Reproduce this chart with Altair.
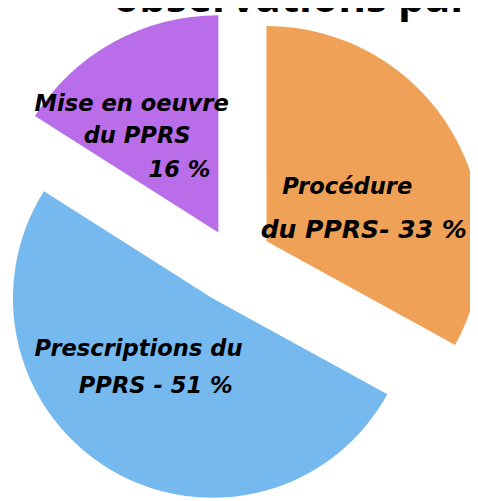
import math
import altair as alt
import pandas as pd

# ---------------- data ----------------
categories = ["Procédure du PPRS", "Prescriptions du PPRS", "Mise en oeuvre du PPRS"]
shares = [33, 51, 16]
colors = ["#EFA257", "#75B9EF", "#B96DE9"]
label_lines = [
    ["Procédure", "du PPRS- 33 %"],
    ["Prescriptions du", "PPRS - 51 %"],
    ["Mise en oeuvre", "du PPRS", "16 %"],
]
title_text = "observations par"

# ---------------- style ----------------
W, H = 470, 493
CX, CY = 225, 255  # common centre of the (exploded) pie
SLICE_STYLE = {  # explode offset of each slice apex and its radius
    "Procédure du PPRS": dict(dx=38, dy=-22, r=219),
    "Prescriptions du PPRS": dict(dx=-17, dy=36, r=203),
    "Mise en oeuvre du PPRS": dict(dx=-11, dy=-31, r=221),
}
LABEL_POS = [  # left x, baseline y, font size of each label line
    [(279, 185, 23), (257, 230, 25.5)],
    [(27, 350, 23), (72, 387, 23)],
    [(27, 101, 23), (77, 133, 23), (143, 168, 23)],
]
FONT = "DejaVu Sans"

# ---------------- tables ----------------
slices = pd.DataFrame({
    "cat": categories,
    "share": shares,
    "order": list(range(len(categories))),
    "dx": [SLICE_STYLE[c]["dx"] for c in categories],
    "dy": [SLICE_STYLE[c]["dy"] for c in categories],
    "r": [SLICE_STYLE[c]["r"] for c in categories],
})

rows = []
for lines, pos in zip(label_lines, LABEL_POS):
    for t, (x, y, fs) in zip(lines, pos):
        rows.append({"text": t, "x": x, "y": y, "fs": fs})
labels = pd.DataFrame(rows)

arcs = (
    alt.Chart(slices)
    .transform_joinaggregate(total="sum(share)")
    .transform_window(cum="sum(share)", sort=[alt.SortField("order")], frame=[None, 0])
    .transform_calculate(
        a0="2*PI*(datum.cum - datum.share)/datum.total",
        a1="2*PI*datum.cum/datum.total",
        px=f"{CX} + datum.dx",
        py=f"{CY} + datum.dy",
    )
    .mark_arc(strokeWidth=0)
    .encode(
        theta=alt.Theta("a0:Q", scale=None),
        theta2="a1:Q",
        x=alt.X("px:Q", scale=None),
        y=alt.Y("py:Q", scale=None),
        radius=alt.Radius("r:Q", scale=None),
        color=alt.Color("cat:N", scale=alt.Scale(domain=categories, range=colors), legend=None),
    )
)

text = (
    alt.Chart(labels)
    .mark_text(
        align="left", baseline="alphabetic", font=FONT,
        fontWeight="bold", fontStyle="italic", color="#000000",
    )
    .encode(
        x=alt.X("x:Q", scale=None),
        y=alt.Y("y:Q", scale=None),
        size=alt.Size("fs:Q", scale=None, legend=None),
        text="text:N",
    )
)

title = (
    alt.Chart(pd.DataFrame({"t": [title_text]}))
    .mark_text(
        align="left", baseline="alphabetic", font="Open Sans", fontSize=43,
        fontWeight="bold", color="#000000",
    )
    .encode(x=alt.value(107), y=alt.value(0), text="t:N")
)

chart = (
    alt.layer(arcs, text, title)
    .properties(width=W, height=H, autosize="none", padding=0)
    .configure_view(stroke=None)
)

chart.save("out.html", embed_options={"renderer": "svg", "actions": False})
